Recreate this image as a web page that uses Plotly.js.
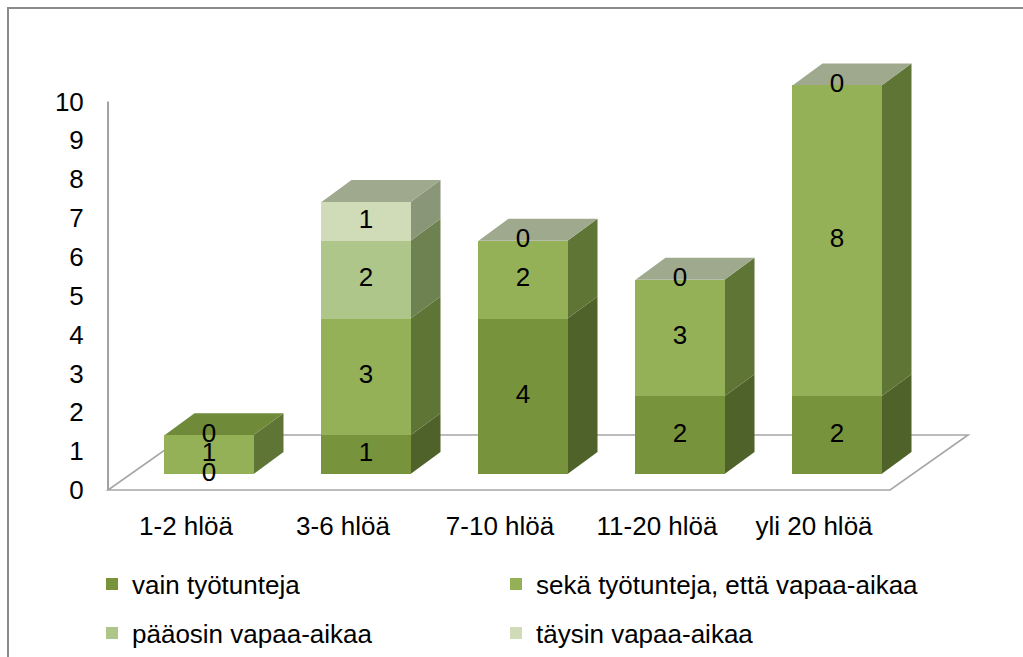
<!DOCTYPE html>
<html>
<head>
<meta charset="utf-8">
<script src="https://cdn.plot.ly/plotly-3.0.1.min.js"></script>
<style>html,body{margin:0;padding:0;background:#fff;}#chart{width:1023px;height:657px;}</style>
</head>
<body>
<div id="chart"></div>
<script>
// ---- data ----
const categories = ['1-2 hlöä', '3-6 hlöä', '7-10 hlöä', '11-20 hlöä', 'yli 20 hlöä'];
const vainTyotunteja = [0, 1, 4, 2, 2];
const sekaTyotuntejaEttaVapaa = [1, 3, 2, 3, 8];
const paaosinVapaa = [0, 2, 0, 0, 0];
const taysinVapaa = [null, 1, null, null, null];
const seriesNames = ['vain työtunteja', 'sekä työtunteja, että vapaa-aikaa', 'pääosin vapaa-aikaa', 'täysin vapaa-aikaa'];
const yTickValues = [0, 1, 2, 3, 4, 5, 6, 7, 8, 9, 10];

// ---- style ----
const FONT = 'Liberation Sans, Arial, sans-serif';
const FS = 26;
const frontColors = ['#77933C', '#94B158', '#AFC68A', '#D0DCB8'];
const sideColors = ['#4F6229', '#5F7536', '#6E8150', '#8A9678'];
const topFaceColors = ['#6F8B3A', '#9EA98E', '#9EA98E', '#9EA98E', '#9EA98E'];
const W = 1023, H = 657;
const pxPerX = 157, pxPerY = 38.86;
const barWidth = 0.567;
const depthX = 30 / pxPerX, depthY = 22 / pxPerY;
const floorDepthX = 78 / pxPerX, floorDepthY = 55 / pxPerY;
const axisX = -0.643, floorRight = 4.338;
const plotTop = 60, plotBottom = 500, zeroPx = 474, axisZeroPx = 490;
const xLeftPx = 209 - 0.5 * pxPerX, xRightPx = 209 + 4.5 * pxPerX;
const yMin = -(plotBottom - zeroPx) / pxPerY;
const yMax = yMin + (plotBottom - plotTop) / pxPerY;
const labelShift = (axisZeroPx - zeroPx) / pxPerY;
// legend slots (pixel positions of each entry: column x, row y)
const legendSlots = [[92, 584], [496, 584], [92, 633], [496, 633]];

// convert axis-frame coordinates to paper (for the frame drawn outside the plot area)
const pX = x => (xLeftPx + (x + 0.5) * pxPerX) / W;
const pY = v => 1 - (axisZeroPx - v * pxPerY) / H;

const series = [vainTyotunteja, sekaTyotuntejaEttaVapaa, paaosinVapaa, taysinVapaa];
const legendIds = ['legend', 'legend2', 'legend3', 'legend4'];

const traces = [];
series.forEach((vals, s) => {
  traces.push({
    type: 'bar', x: categories.map((c, i) => i), y: vals, name: seriesNames[s],
    marker: {color: frontColors[s], line: {width: 0}},
    width: barWidth, hoverinfo: 'skip',
    legend: legendIds[s]
  });
});

const cum = categories.map(() => 0);
const shapes = [];
// outer border
shapes.push({type: 'rect', xref: 'paper', yref: 'paper', x0: 8 / W, x1: 1.05, y0: -0.05, y1: 1 - 8 / H,
  line: {color: '#8A8A8A', width: 2}, fillcolor: 'rgba(0,0,0,0)', layer: 'below'});
// floor
shapes.push({type: 'path', xref: 'paper', yref: 'paper', layer: 'below',
  path: `M${pX(axisX)},${pY(0)} L${pX(floorRight)},${pY(0)} L${pX(floorRight + floorDepthX)},${pY(floorDepthY)} L${pX(axisX + floorDepthX)},${pY(floorDepthY)} Z`,
  line: {color: '#A6A6A6', width: 1.6}, fillcolor: 'rgba(0,0,0,0)'});
// vertical axis line
shapes.push({type: 'line', xref: 'paper', yref: 'paper', x0: pX(axisX), x1: pX(axisX), y0: pY(0), y1: pY(10), layer: 'below',
  line: {color: '#A0A0A0', width: 2}});

series.forEach((vals, s) => {
  const tx = [], ty = [], tt = [];
  vals.forEach((v, i) => {
    if (v === null || v === undefined) return;
    const base = cum[i];
    const top = base + v;
    tx.push(i); ty.push(base + v / 2); tt.push(String(v));
    if (v > 0) {
      const xr = i + barWidth / 2;
      shapes.push({type: 'path', xref: 'x', yref: 'y', layer: 'below',
        path: `M${xr},${base} L${xr + depthX},${base + depthY} L${xr + depthX},${top + depthY} L${xr},${top} Z`,
        fillcolor: sideColors[s], line: {width: 0}});
    }
    cum[i] = top;
  });
  traces.push({type: 'scatter', mode: 'text', x: tx, y: ty, text: tt, showlegend: false, hoverinfo: 'skip',
    textfont: {family: FONT, size: FS, color: '#000'}, cliponaxis: false});
});
// top faces
cum.forEach((T, i) => {
  const xl = i - barWidth / 2, xr = i + barWidth / 2;
  shapes.push({type: 'path', xref: 'x', yref: 'y', layer: 'below',
    path: `M${xl},${T} L${xl + depthX},${T + depthY} L${xr + depthX},${T + depthY} L${xr},${T} Z`,
    fillcolor: topFaceColors[i], line: {width: 0}});
});

const layout = {
  width: W, height: H,
  margin: {l: 0, r: 0, t: 0, b: 0},
  paper_bgcolor: '#fff', plot_bgcolor: 'rgba(0,0,0,0)',
  barmode: 'stack',
  font: {family: FONT, size: FS, color: '#000'},
  showlegend: true,
  xaxis: {domain: [xLeftPx / W, xRightPx / W], range: [-0.5, 4.5], showgrid: false, zeroline: false,
    showline: false, showticklabels: false, ticks: '', fixedrange: true},
  xaxis2: {overlaying: 'x', anchor: 'y', side: 'bottom', range: [-0.5 + 23 / pxPerX, 4.5 + 23 / pxPerX],
    tickvals: categories.map((c, i) => i), ticktext: categories, showgrid: false, zeroline: false,
    showline: false, ticks: 'outside', ticklen: 3, tickcolor: 'rgba(0,0,0,0)',
    tickfont: {family: FONT, size: FS, color: '#000'}},
  yaxis: {domain: [1 - plotBottom / H, 1 - plotTop / H], range: [yMin, yMax], showgrid: false,
    zeroline: false, showline: false, showticklabels: false, ticks: ''},
  yaxis2: {overlaying: 'y', anchor: 'free', position: 108 / W, side: 'left',
    range: [yMin + labelShift, yMax + labelShift], tickvals: yTickValues,
    showgrid: false, zeroline: false, showline: false, ticks: 'outside', ticklen: 19,
    tickcolor: 'rgba(0,0,0,0)', tickfont: {family: FONT, size: FS, color: '#000'}},
  shapes: shapes
};
legendIds.forEach((id, k) => {
  layout[id] = {orientation: 'h', xanchor: 'left', yanchor: 'middle',
    x: legendSlots[k][0] / W, y: 1 - legendSlots[k][1] / H,
    font: {family: FONT, size: FS, color: '#000'},
    bgcolor: 'rgba(0,0,0,0)', borderwidth: 0};
});
// invisible trace to activate xaxis2 / yaxis2
traces.push({type: 'scatter', x: [0], y: [0], xaxis: 'x2', yaxis: 'y2', mode: 'markers',
  marker: {opacity: 0}, showlegend: false, hoverinfo: 'skip'});

Plotly.newPlot('chart', traces, layout, {displayModeBar: false, staticPlot: true});
</script>
</body>
</html>
